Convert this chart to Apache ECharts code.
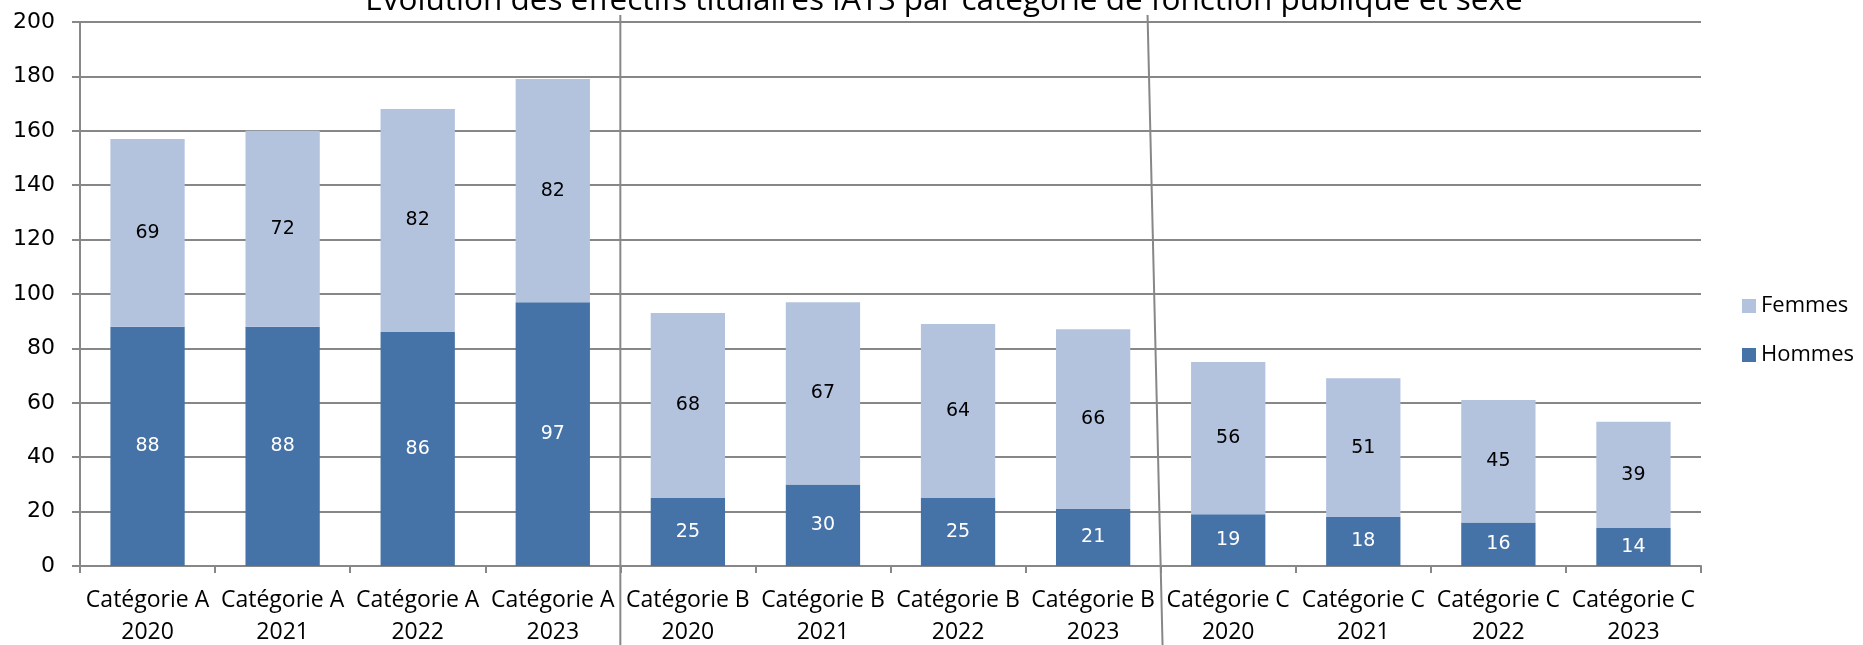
<!DOCTYPE html>
<html>
<head>
<meta charset="utf-8">
<script src="https://cdn.jsdelivr.net/npm/echarts@6/dist/echarts.min.js"></script>
<style>
html,body{margin:0;padding:0;background:#fff;}
#chart{width:1863px;height:645px;}
</style>
</head>
<body>
<div id="chart"></div>
<script>
var titleText = 'Evolution des effectifs titulaires IATS par catégorie de fonction publique et sexe';
var categories = [
  'Catégorie A\n2020','Catégorie A\n2021','Catégorie A\n2022','Catégorie A\n2023',
  'Catégorie B\n2020','Catégorie B\n2021','Catégorie B\n2022','Catégorie B\n2023',
  'Catégorie C\n2020','Catégorie C\n2021','Catégorie C\n2022','Catégorie C\n2023'
];
var hommes = [88, 88, 86, 97, 25, 30, 25, 21, 19, 18, 16, 14];
var femmes = [69, 72, 82, 82, 68, 67, 64, 66, 56, 51, 45, 39];
var yTicks = [0, 20, 40, 60, 80, 100, 120, 140, 160, 180, 200];
var groupBoundaries = [4, 8]; // separator before these category indexes

var gridColor = '#878787';
var legendText = {fontFamily: 'Open Sans', fontSize: 22, color: '#000'};
var chart = echarts.init(document.getElementById('chart'));
var option = {
  animation: false,
  backgroundColor: '#ffffff',
  title: {
    text: titleText,
    left: 944,
    textAlign: 'center',
    top: -15,
    padding: 0,
    textStyle: {fontFamily: 'Open Sans', fontSize: 31.5, fontWeight: 'normal', color: '#000'}
  },
  legend: [
    {
      data: ['Femmes'], orient: 'vertical', left: 1742, top: 295,
      itemWidth: 14, itemHeight: 14, icon: 'rect', padding: 0,
      textStyle: legendText
    },
    {
      data: ['Hommes'], orient: 'vertical', left: 1742, top: 344,
      itemWidth: 14, itemHeight: 14, icon: 'rect', padding: 0,
      textStyle: legendText
    }
  ],
  grid: {left: 80, right: 162, top: 22, bottom: 79, containLabel: false, outerBoundsMode: 'none'},
  xAxis: {
    type: 'category',
    data: categories,
    axisLine: {show: true, lineStyle: {color: gridColor, width: 2}},
    axisTick: {show: true, alignWithLabel: false, length: 7, inside: false, lineStyle: {color: gridColor, width: 2}},
    axisLabel: {fontFamily: 'Open Sans', fontSize: 23, color: '#000', lineHeight: 32, margin: 18, interval: 0}
  },
  yAxis: {
    type: 'value',
    min: yTicks[0],
    max: yTicks[yTicks.length - 1],
    interval: yTicks[1] - yTicks[0],
    axisLine: {show: true, lineStyle: {color: gridColor, width: 2}},
    axisTick: {show: true, length: 8, lineStyle: {color: gridColor, width: 2}},
    splitLine: {show: true, lineStyle: {color: gridColor, width: 2}},
    axisLabel: {fontFamily: 'DejaVu Sans', fontSize: 22, color: '#000', margin: 25}
  },
  series: [
    {
      name: 'Hommes', type: 'bar', stack: 'total', data: hommes,
      barCategoryGap: '45%',
      itemStyle: {color: '#4572A7'},
      label: {show: true, position: 'inside', color: '#ffffff', fontFamily: 'DejaVu Sans', fontSize: 19}
    },
    {
      name: 'Femmes', type: 'bar', stack: 'total', data: femmes,
      barCategoryGap: '45%',
      itemStyle: {color: '#B3C3DE'},
      label: {show: true, position: 'inside', color: '#000000', fontFamily: 'DejaVu Sans', fontSize: 19}
    }
  ]
};
chart.setOption(option);

// separators between category groups, positioned through the axis scale
var graphics = [];
var yTop = 15, yBot = 645;
var y0 = chart.convertToPixel({yAxisIndex: 0}, 0);
groupBoundaries.forEach(function (b, i) {
  var xa = chart.convertToPixel({xAxisIndex: 0}, categories[b - 1]);
  var xb = chart.convertToPixel({xAxisIndex: 0}, categories[b]);
  var xm = (xa + xb) / 2;
  var slope = i === 1 ? 15 / 630 : 0;
  graphics.push({
    type: 'line',
    shape: {
      x1: xm - slope * (y0 - yTop), y1: yTop,
      x2: xm + slope * (yBot - y0), y2: yBot
    },
    style: {stroke: gridColor, lineWidth: 2},
    z: 10
  });
});
chart.setOption({graphic: graphics});
</script>
</body>
</html>
